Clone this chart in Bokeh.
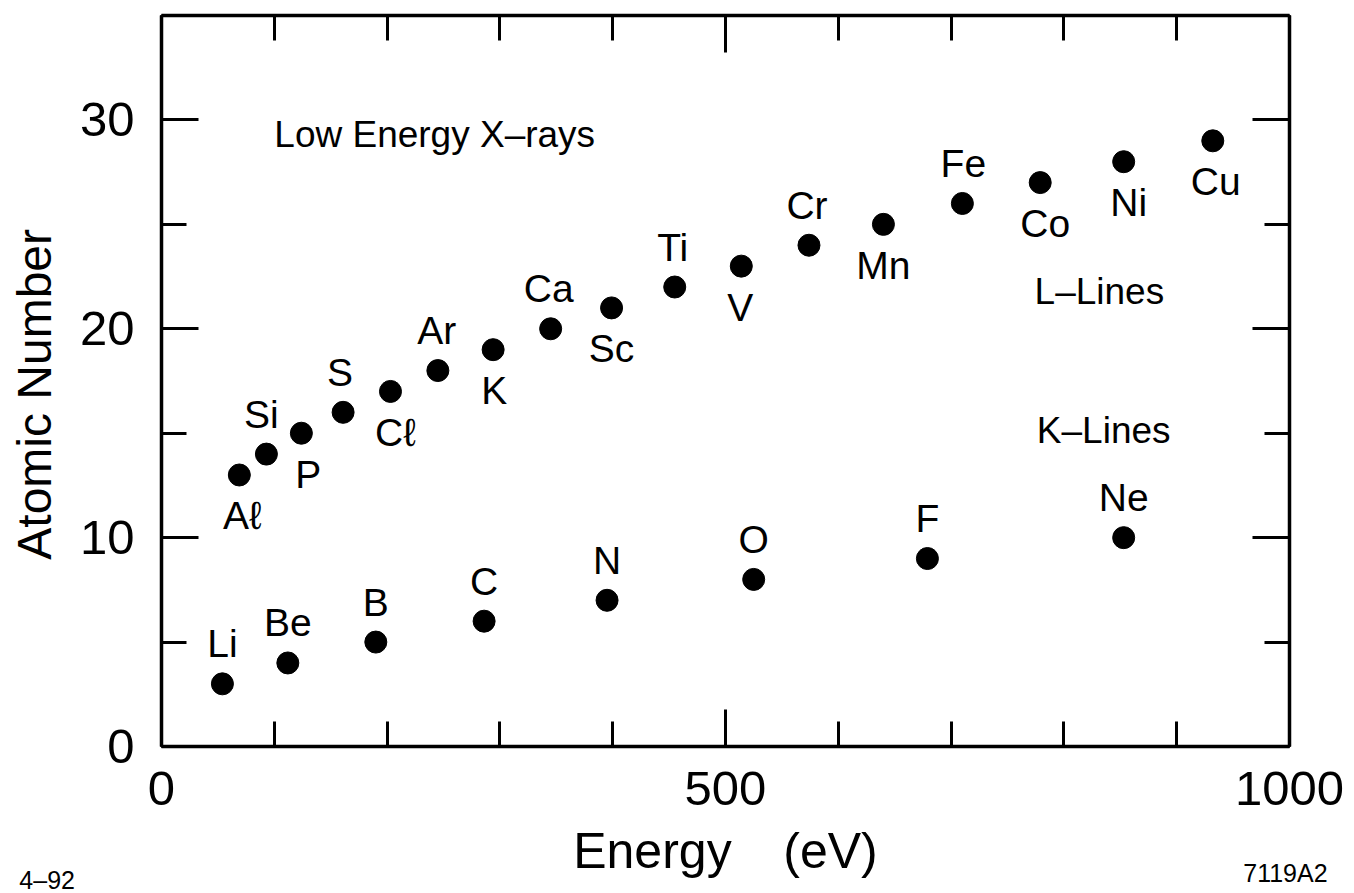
from bokeh.plotting import figure
from bokeh.models import Range1d, LinearAxis, SingleIntervalTicker, Label, ColumnDataSource
from bokeh.embed import file_html
from bokeh.resources import INLINE
from bokeh.core.properties import value

# ---- data ----
k_elements = ["Li", "Be", "B", "C", "N", "O", "F", "Ne"]
k_energy = [54, 112, 190, 286, 395, 525, 679, 853]
k_z = [3, 4, 5, 6, 7, 8, 9, 10]

l_elements = ["A\u2113", "Si", "P", "S", "C\u2113", "Ar", "K", "Ca", "Sc", "Ti", "V",
              "Cr", "Mn", "Fe", "Co", "Ni", "Cu"]
l_energy = [69, 93, 124, 161, 203, 245, 294, 345, 399, 455, 514, 574, 640, 710, 779, 853, 932]
l_z = [13, 14, 15, 16, 17, 18, 19, 20, 21, 22, 23, 24, 25, 26, 27, 28, 29]

x_axis_bounds = (0, 1000)
y_axis_bounds = (0, 35)
x_tick_interval = 500
y_tick_interval = 10

# label placement (style): side of the marker, small horizontal nudge in px
k_side = ["above"] * 8
k_dx = [0, 0, 0, 0, 0, 0, 0, 0]
l_side = ["below", "above", "below", "above", "below", "above", "below", "above", "below",
          "above", "below", "above", "below", "above", "below", "below", "below"]
l_dx = [3, -5, 7, -3, 5, -1, 1, -2, 0, -2, -1, -2, 0, 1, 5, 5, 3]

FONT = "Liberation Sans"
W, H = 1354, 893
# frame placement in pixels (style)
FL, FR, FT, FB = 161, 1289, 15, 746
sx = (FR - FL) / (x_axis_bounds[1] - x_axis_bounds[0])
sy = (FB - FT) / (y_axis_bounds[1] - y_axis_bounds[0])

p = figure(width=W, height=H,
           x_range=Range1d(-FL / sx, (W - FL) / sx),
           y_range=Range1d(-(H - FB) / sy, FB / sy),
           output_backend="svg", toolbar_location=None,
           x_axis_location=None, y_axis_location=None,
           min_border_left=0, min_border_right=0, min_border_top=0, min_border_bottom=0)
p.outline_line_color = None
p.grid.visible = False
p.background_fill_color = "white"
p.border_fill_color = "white"

xt = SingleIntervalTicker(interval=x_tick_interval, num_minor_ticks=5)
yt = SingleIntervalTicker(interval=y_tick_interval, num_minor_ticks=2)

def make_axis(ticker, loc, bounds, labels=True):
    ax = LinearAxis(ticker=ticker, fixed_location=loc, bounds=bounds)
    ax.axis_line_width = 3.5
    ax.axis_line_color = "black"
    ax.major_tick_line_width = 3
    ax.minor_tick_line_width = 3
    ax.major_tick_line_color = "black"
    ax.minor_tick_line_color = "black"
    ax.major_tick_in = 37
    ax.major_tick_out = 0
    ax.minor_tick_in = 25
    ax.minor_tick_out = 0
    ax.major_label_text_font = FONT
    ax.major_label_text_font_size = "49px"
    ax.axis_label_text_font = FONT
    ax.axis_label_text_font_style = "normal"
    ax.axis_label_text_color = "black"
    if labels:
        ax.major_label_text_color = "black"
    else:
        ax.major_label_text_color = None
    return ax

bottom = make_axis(xt, y_axis_bounds[0], x_axis_bounds)
bottom.axis_label = "Energy\u00a0\u00a0\u00a0\u2009(eV)"
bottom.axis_label_text_font_size = "50px"
bottom.major_label_standoff = 25
bottom.axis_label_standoff = 15
p.add_layout(bottom, "below")

left = make_axis(yt, x_axis_bounds[0], y_axis_bounds)
left.axis_label = "Atomic Number\u00a0\u00a0"
left.axis_label_text_font_size = "48px"
left.major_label_standoff = 27
left.axis_label_standoff = 16
p.add_layout(left, "left")

top = make_axis(xt, y_axis_bounds[1], x_axis_bounds, labels=False)
p.add_layout(top, "above")
right = make_axis(yt, x_axis_bounds[1], y_axis_bounds, labels=False)
p.add_layout(right, "right")

def add_series(names, xs, ys, sides, dxs):
    src = ColumnDataSource(dict(x=xs, y=ys, name=names,
                                dy=[-40 if s == "above" else 41 for s in sides],
                                dx=dxs))
    p.scatter("x", "y", source=src, size=22, color="black")
    p.text("x", "y", text="name", source=src, x_offset="dx", y_offset="dy",
           text_align="center", text_baseline="middle",
           text_font=value(FONT), text_font_size="39px", text_color="black")

add_series(k_elements, k_energy, k_z, k_side, k_dx)
add_series(l_elements, l_energy, l_z, l_side, l_dx)

for txt, x, y in [("Low Energy X\u2013rays", 100, 29.28), ("L\u2013Lines", 774, 21.78),
                  ("K\u2013Lines", 776, 15.13)]:
    p.add_layout(Label(x=x, y=y, text=txt, text_font=FONT, text_font_size="37px",
                       text_align="left", text_baseline="middle", text_color="black"))

p.add_layout(Label(x=959, y=-6.06, text="7119A2", text_font=FONT, text_font_size="25px",
                   text_align="left", text_baseline="middle", text_color="black"))
p.add_layout(Label(x=-126, y=-6.4, text="4\u201392", text_font=FONT, text_font_size="25px",
                   text_align="left", text_baseline="middle", text_color="black"))

open("out.html", "w").write(file_html(p, INLINE))
